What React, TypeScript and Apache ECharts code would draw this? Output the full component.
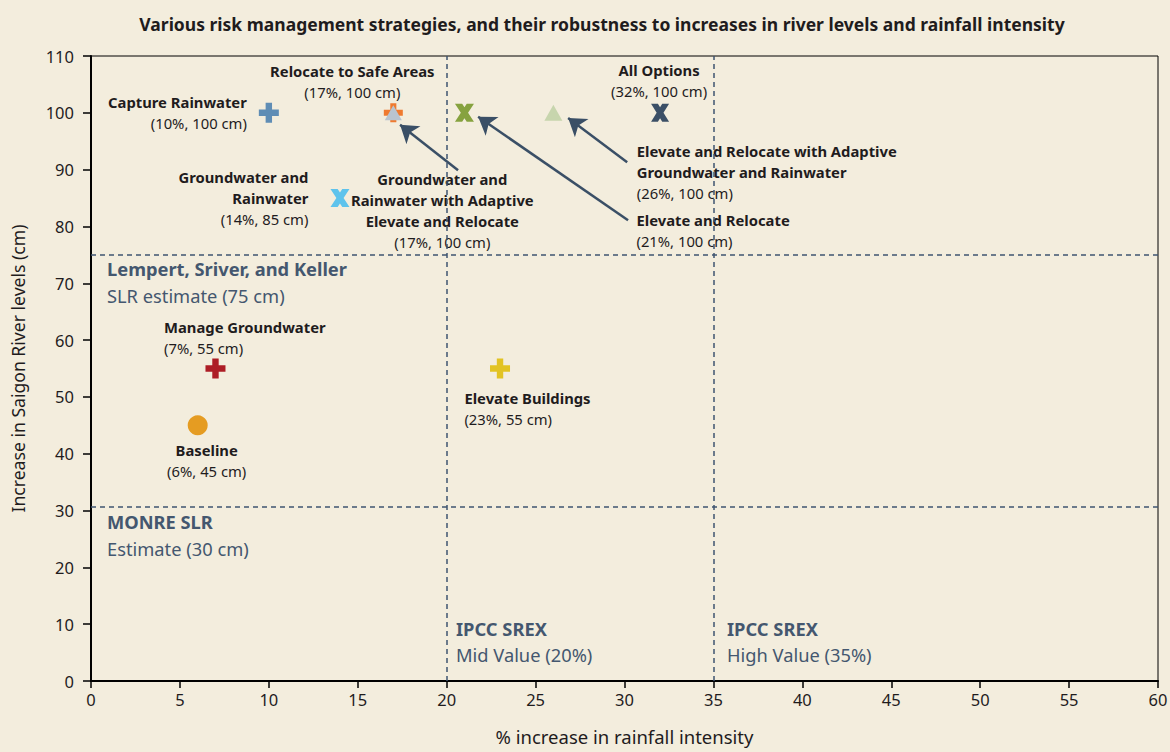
import React, { useEffect, useRef } from "react";
import * as echarts from "echarts";

// ---------- data ----------
const names = [
  "Capture Rainwater",
  "Relocate to Safe Areas",
  "Groundwater and\nRainwater with Adaptive\nElevate and Relocate",
  "Elevate and Relocate",
  "Elevate and Relocate with Adaptive\nGroundwater and Rainwater",
  "All Options",
  "Groundwater and\nRainwater",
  "Manage Groundwater",
  "Baseline",
  "Elevate Buildings",
];
const rainfall = [10, 17, 17, 21, 26, 32, 14, 7, 6, 23];
const riverLevel = [100, 100, 100, 100, 100, 100, 85, 55, 45, 55];

const refX = [20, 35];
const refY = [75, 30.6];

// arrows: [tailX, tailY, tipX, tipY] in data units
const arrowGW = [20.64, 89.9, 17.38, 97.9];
const arrowER = [30.2, 81.1, 21.77, 99.3];
const arrowERA = [30.15, 91.3, 26.83, 99.1];

const xTicks = [0, 5, 10, 15, 20, 25, 30, 35, 40, 45, 50, 55, 60];
const yTicks = [0, 10, 20, 30, 40, 50, 60, 70, 80, 90, 100, 110];

// ---------- styles ----------
const FONT = "Noto Sans";
const PLUS = "path://M3.4,0 h3.2 v3.4 h3.4 v3.2 h-3.4 v3.4 h-3.2 v-3.4 h-3.4 v-3.2 h3.4z";
const CROSS =
  "path://M0,0 L3.8,0 L5,1.94 L6.2,0 L10,0 L6.9,5 L10,10 L6.2,10 L5,8.06 L3.8,10 L0,10 L3.1,5z";

const markerStyle: Record<string, any> = {
  "Capture Rainwater": { symbol: PLUS, size: 20, color: "#5f8db5", align: "right", offset: [-22, 0] },
  "Relocate to Safe Areas": { symbol: PLUS, size: 19, color: "#ef7a2f", align: "center", offset: [-41, -31] },
  "Groundwater and\nRainwater with Adaptive\nElevate and Relocate": {
    symbol: "triangle", size: [17, 15], color: "#b9c4cf", align: "center", offset: [49, 98],
  },
  "Elevate and Relocate": { symbol: CROSS, size: [19, 18], color: "#86a23f", align: "left", offset: [172, 117.5] },
  "Elevate and Relocate with Adaptive\nGroundwater and Rainwater": {
    symbol: "triangle", size: [18, 16], color: "#c7d5ad", align: "left", offset: [83.4, 59],
  },
  "All Options": { symbol: CROSS, size: [18, 18], color: "#3b4f66", align: "center", offset: [-1, -32] },
  "Groundwater and\nRainwater": { symbol: CROSS, size: [19, 18], color: "#5ec3ec", align: "right", offset: [-31.6, 0] },
  "Manage Groundwater": { symbol: PLUS, size: 20, color: "#ad1d25", align: "left", offset: [-51.5, -31.5] },
  Baseline: { symbol: "circle", size: 20, color: "#e59c22", align: "center", offset: [9, 35.5] },
  "Elevate Buildings": { symbol: PLUS, size: 20, color: "#e2c323", align: "left", offset: [-35.6, 39.5] },
};

const SLATE = "#44576f";
const BG = "#f3eddd";
const INK = "#1f1c1d";

export default function App() {
  const ref = useRef<HTMLDivElement>(null);
  useEffect(() => {
    document.body.style.margin = "0";
    document.body.style.background = BG;
    const chart = echarts.init(ref.current!, undefined, { renderer: "svg" });

    const data = names.map((n, i) => {
      const s = markerStyle[n];
      const lines = n.split("\n").map((l) => `{b|${l}}`).join("\n");
      return {
        name: n,
        value: [rainfall[i], riverLevel[i]],
        symbol: s.symbol,
        symbolSize: s.size,
        itemStyle: { color: s.color, opacity: 1 },
        label: {
          show: true,
          position: "inside",
          align: s.align,
          verticalAlign: "middle",
          offset: s.offset,
          opacity: 1,
          formatter: `${lines}\n{r|(${rainfall[i]}%, ${riverLevel[i]} cm)}`,
          rich: {
            b: { fontFamily: FONT, fontWeight: "bold", fontSize: 14.8, color: INK, lineHeight: 21, align: s.align },
            r: { fontFamily: FONT, fontSize: 14.8, color: INK, lineHeight: 21, align: s.align },
          },
        },
      };
    });

    const arrowLine = (a: number[]) => ({ coords: [[a[0], a[1]], [a[2], a[3]]] });
    const refLabel = (text: string, left: number, top: number, bold: boolean) => ({
      type: "text",
      left,
      top,
      style: { text, fontFamily: FONT, fontWeight: bold ? "bold" : "normal", fontSize: 18.3, fill: SLATE },
    });

    const option: any = {
      animation: false,
      backgroundColor: BG,
      textStyle: { fontFamily: FONT },
      title: {
        text: "Various risk management strategies, and their robustness to increases in river levels and rainfall intensity",
        left: 597,
        top: 10,
        textAlign: "center",
        textStyle: { fontFamily: FONT, fontWeight: "bold", fontSize: 17.5, color: INK },
      },
      grid: {
        left: 91,
        right: 12,
        top: 56,
        bottom: 71,
        outerBoundsMode: "none",
        containLabel: false,
        show: true,
        borderColor: "#000",
        borderWidth: 1,
        backgroundColor: "transparent",
      },
      xAxis: {
        type: "value",
        min: xTicks[0],
        max: xTicks[xTicks.length - 1],
        interval: 5,
        name: "% increase in rainfall intensity",
        nameLocation: "middle",
        nameGap: 46,
        nameTextStyle: { fontFamily: FONT, fontSize: 18.5, color: INK },
        axisLine: { lineStyle: { color: "#000", width: 2 } },
        axisTick: { show: true, length: 7, lineStyle: { color: "#000", width: 1.5 } },
        axisLabel: { fontFamily: FONT, fontSize: 16.5, color: INK, margin: 10 },
        splitLine: { show: false },
      },
      yAxis: {
        type: "value",
        min: yTicks[0],
        max: yTicks[yTicks.length - 1],
        interval: 10,
        name: "Increase in Saigon River levels (cm)",
        nameLocation: "middle",
        nameGap: 64,
        nameTextStyle: { fontFamily: FONT, fontSize: 17.6, color: INK },
        axisLine: { show: true, lineStyle: { color: "#000", width: 2 } },
        axisTick: { show: true, length: 8, lineStyle: { color: "#000", width: 1.5 } },
        axisLabel: { fontFamily: FONT, fontSize: 16.5, color: INK, margin: 17 },
        splitLine: { show: false },
      },
      series: [
        {
          type: "scatter",
          data: [],
          markLine: {
            silent: true,
            symbol: ["none", "none"],
            label: { show: false },
            lineStyle: { color: "#3f5470", type: [5, 4], width: 1.5, opacity: 1 },
            data: [...refX.map((v) => ({ xAxis: v })), ...refY.map((v) => ({ yAxis: v }))],
          },
        },
        {
          type: "lines",
          coordinateSystem: "cartesian2d",
          symbol: ["none", "arrow"],
          symbolSize: [0, 17],
          lineStyle: { color: "#3a4f66", width: 2.5, opacity: 1, curveness: 0 },
          data: [arrowLine(arrowGW), arrowLine(arrowER), arrowLine(arrowERA)],
          z: 3,
        },
        {
          type: "scatter",
          data,
          z: 4,
        },
      ],
      graphic: [
        refLabel("Lempert, Sriver, and Keller", 107, 259, true),
        refLabel("SLR estimate (75 cm)", 107, 286, false),
        refLabel("MONRE SLR", 107, 512, true),
        refLabel("Estimate (30 cm)", 107, 539, false),
        refLabel("IPCC SREX", 456, 619, true),
        refLabel("Mid Value (20%)", 456, 645, false),
        refLabel("IPCC SREX", 727, 619, true),
        refLabel("High Value (35%)", 727, 645, false),
      ],
    };
    chart.setOption(option);
    return () => chart.dispose();
  }, []);
  return (
    <div
      ref={ref}
      style={{ position: "fixed", left: 0, top: 0, width: 1170, height: 752, background: BG }}
    />
  );
}
